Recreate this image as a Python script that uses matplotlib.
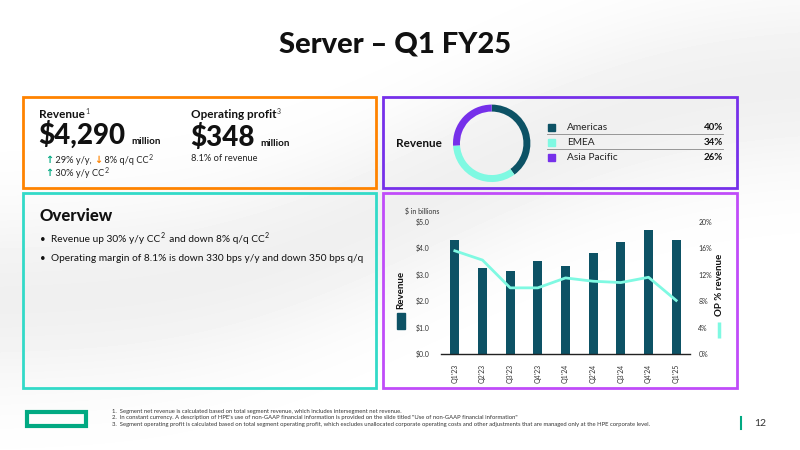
import matplotlib.pyplot as plt
import numpy as np
from matplotlib.patches import Rectangle

plt.rcParams['font.family'] = ['Lato', 'DejaVu Sans']

# data
quarters = ["Q1'23", "Q2'23", "Q3'23", "Q4'23", "Q1'24", "Q2'24", "Q3'24", "Q4'24", "Q1'25"]
revenue = [4.30, 3.24, 3.13, 3.53, 3.32, 3.82, 4.25, 4.67, 4.29]
op_pct = [15.6, 14.2, 10.0, 10.0, 11.5, 11.0, 10.8, 11.6, 8.1]
regions = ["Americas", "EMEA", "Asia Pacific"]
region_share = [40, 34, 26]
region_colors = ["#0D5265", "#7FF9E2", "#7630EA"]
footnotes = [
    "1.  Segment net revenue is calculated based on total segment revenue, which includes intersegment net revenue.",
    "2.  In constant currency. A description of HPE's use of non-GAAP financial information is provided on the slide titled \"Use of non-GAAP financial information\"",
    "3.  Segment operating profit is calculated based on total segment operating profit, which excludes unallocated corporate operating costs and other adjustments that are managed only at the HPE corporate level.",
]

W, H = 800, 450
fig = plt.figure(figsize=(8, 4.5), dpi=100)
fig.patch.set_facecolor('white')

# background axis in pixel coordinates (y down)
bg = fig.add_axes([0, 0, 1, 1])
bg.set_xlim(0, W)
bg.set_ylim(H, 0)
bg.axis('off')

# subtle gray swoosh background
yy, xx = np.mgrid[0:H, 0:W]
wave = np.exp(-((yy - (300 - 0.25 * xx + 30 * np.sin(xx / 140))) / 90.0) ** 2)
shade = 1 - 0.06 * wave
bg.imshow(shade, cmap='gray', vmin=0, vmax=1, extent=[0, W, H, 0], zorder=0, aspect='auto')


def px_ax(x0, y0, x1, y1):
    return fig.add_axes([x0 / W, 1 - y1 / H, (x1 - x0) / W, (y1 - y0) / H])


renderer = fig.canvas.get_renderer()


def seq(x, y, parts):
    # draw text pieces one after another, each with (text, dy, kwargs)
    for txt, dy, kw in parts:
        t = bg.text(x, y + dy, txt, va='baseline', ha='left', **kw)
        x = t.get_window_extent(renderer).x1
    return x


# title
bg.text(395, 45, "Server \u2013 Q1 FY25", ha='center', va='center', fontsize=21, fontweight='black', color='#111111')

# boxes
boxes = [(23, 97, 376, 188, '#FF8300'), (383, 97, 737, 188, '#7630EA'),
         (23, 193, 376, 388, '#32DAC8'), (383, 193, 737, 388, '#C04CF9')]
for x0, y0, x1, y1, c in boxes:
    bg.add_patch(Rectangle((x0, y0), x1 - x0, y1 - y0, fill=False, edgecolor=c, lw=2, zorder=3))

# revenue / operating profit box
big = dict(fontsize=20, fontweight='black', color='#111111')
sup = dict(fontsize=5, color='#333333')
seq(39, 118, [("Revenue", 0, dict(fontsize=8.5, fontweight='bold', color='#111111')),
              ("1", -4, sup)])
x = seq(38, 144, [("$4,290", 0, big)])
bg.text(x + 6, 144, "million", fontsize=7, fontweight='bold', color='#111111', va='baseline')
arrow = dict(fontsize=7, fontweight='bold', family='DejaVu Sans')
small = dict(fontsize=6.7, color='#222222')
seq(45, 163, [("\u2191", 0, dict(color='#01A982', **arrow)),
              (" 29% y/y, ", 0, small),
              ("\u2193", 0, dict(color='#FF8300', **arrow)),
              (" 8% q/q CC", 0, small), ("2", -3, sup)])
seq(45, 176, [("\u2191", 0, dict(color='#01A982', **arrow)),
              (" 30% y/y CC", 0, small), ("2", -3, sup)])

seq(191, 118, [("Operating profit", 0, dict(fontsize=8.5, fontweight='bold', color='#111111')),
               ("3", -4, sup)])
x = seq(190, 146, [("$348", 0, big)])
bg.text(x + 6, 146, "million", fontsize=7, fontweight='bold', color='#111111', va='baseline')
bg.text(191, 161, "8.1% of revenue", fontsize=6.7, color='#222222', va='baseline')

# overview box
bg.text(40, 221, "Overview", fontsize=12, fontweight='black', color='#111111', va='baseline')
bullets = [("Revenue up 30% y/y CC", "2", "  and down 8% q/q CC", "2"),
           ("Operating margin of 8.1% is down 330 bps y/y and down 350 bps q/q",)]
body = dict(fontsize=7.3, color='#111111')
for i, parts in enumerate(bullets):
    yb = 242 + i * 19
    bg.text(40, yb, "\u2022", fontsize=7, color='#111111', va='baseline')
    pieces = []
    for j, p in enumerate(parts):
        if j % 2 == 0:
            pieces.append((p, 0, body))
        else:
            pieces.append((p, -3.5, dict(fontsize=5, color='#111111')))
    seq(51, yb, pieces)

# donut
bg.text(396, 147, "Revenue", fontsize=8.5, fontweight='bold', color='#111111', va='baseline')
r = 38.7
cx, cy = 491.7, 143.3
dax = px_ax(cx - r, cy - r, cx + r, cy + r)
dax.pie(region_share, colors=region_colors, startangle=90, counterclock=False,
        wedgeprops=dict(width=0.18, edgecolor='none'))
dax.set_xlim(-1, 1)
dax.set_ylim(-1, 1)
dax.set_aspect('equal')
dax.axis('off')

for i, (name, share, c) in enumerate(zip(regions, region_share, region_colors)):
    yr = 127 + i * 15.3
    bg.add_patch(Rectangle((548, yr - 3.5), 7, 7, color=c, zorder=4))
    bg.text(567, yr, name, fontsize=7.3, color='#222222', va='center')
    bg.text(723, yr, f"{share}%", fontsize=7, fontweight='bold', color='#111111', va='center', ha='right')
    if i < 2:
        bg.plot([547, 723], [yr + 7, yr + 7], color='#888888', lw=0.6)

# bar + line chart
ax = px_ax(441, 221.7, 690, 354)
ax.patch.set_alpha(0)
xpos = np.arange(len(quarters))
ax.bar(xpos, revenue, width=0.33, color='#0D5265', zorder=2)
ax.set_xlim(-0.5, len(quarters) - 0.5)
ax.set_ylim(0, 5)
ax.set_yticks(np.arange(0, 5.01, 1))
ax.set_yticklabels([f"${v:.1f}" for v in np.arange(0, 5.01, 1)])
ax.set_xticks(xpos)
ax.set_xticklabels(quarters, rotation=90)
ax.tick_params(axis='both', length=0, labelsize=5, colors='#333333', pad=7)
ax.tick_params(axis='y', pad=8)
for s in ['top', 'left', 'right']:
    ax.spines[s].set_visible(False)
ax.spines['bottom'].set_color('#222222')
ax.spines['bottom'].set_linewidth(1)

ax2 = ax.twinx()
ax2.plot(xpos, op_pct, color='#7FF9E2', lw=2, zorder=3)
ax2.set_ylim(0, 20)
ax2.set_yticks(np.arange(0, 20.1, 4))
ax2.set_yticklabels([f"{int(v)}%" for v in np.arange(0, 20.1, 4)])
ax2.tick_params(axis='y', length=0, labelsize=5, colors='#333333', pad=6)
for s in ['top', 'left', 'right', 'bottom']:
    ax2.spines[s].set_visible(False)

bg.text(405, 211, "$ in billions", fontsize=5, color='#333333', va='center')
bg.text(400.5, 290, "Revenue", rotation=90, fontsize=7, fontweight='bold', color='#111111', ha='center', va='center')
bg.add_patch(Rectangle((397, 313), 8, 16, color='#0D5265', zorder=4))
bg.text(720, 285, "OP % revenue", rotation=90, fontsize=7, fontweight='bold', color='#111111', ha='center', va='center')
bg.plot([719, 719], [322, 338], color='#7FF9E2', lw=2.5, solid_capstyle='butt')

# footnotes
for i, f in enumerate(footnotes):
    bg.text(112, 411 + i * 6.8, f, fontsize=4.25, color='#333333', va='center')

# logo and page number
bg.add_patch(Rectangle((26.5, 411.5), 59, 14, fill=False, edgecolor='#01A982', lw=3))
bg.plot([741, 741], [417, 429], color='#01A982', lw=1.5)
bg.text(754, 423, "12", fontsize=7.5, color='#333333', va='center')

fig.savefig('out.png', dpi=100)
